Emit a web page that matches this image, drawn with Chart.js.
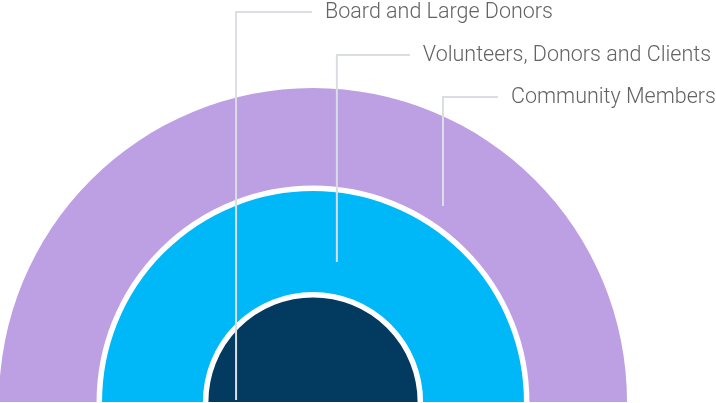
<!DOCTYPE html>
<html>
<head>
<meta charset="utf-8">
<script src="https://cdn.jsdelivr.net/npm/chart.js@4.4.1/dist/chart.umd.min.js"></script>
<style>
  html, body { margin: 0; padding: 0; background: #fff; overflow: hidden; }
  #wrap { width: 716px; height: 403px; position: relative; }
</style>
</head>
<body>
<div id="wrap"><canvas id="canvas"></canvas></div>
<script>
// rings, outermost first
const groups = ['Community Members', 'Volunteers, Donors and Clients', 'Board and Large Donors']
const ringValues = [1, 1, 1]
const ringWeights = [100, 106, 107]
const ringColors = ['#BD9FE3', '#00B8F8', '#033A60']

// callout placement, relative to center, in units of outer radius
const callouts = [
    { ring: 2, fx: -0.245, fy: -0.006, labelY: 12, lineLen: 76 },
    { ring: 1, fx: 0.076, fy: -0.446, labelY: 55, lineLen: 73 },
    { ring: 0, fx: 0.414, fy: -0.624, labelY: 97, lineLen: 55 }
]

const calloutPlugin = {
    id: 'callouts',
    afterDatasetsDraw(chart) {
        const ctx = chart.ctx
        const outer = chart.getDatasetMeta(0).data[0]
        const cx = outer.x, cy = outer.y, R = outer.outerRadius

        // white separators between rings
        ctx.save()
        ctx.strokeStyle = '#ffffff'
        ctx.lineWidth = 5.5
        for (let i = 0; i < groups.length - 1; i++) {
            const arc = chart.getDatasetMeta(i).data[0]
            ctx.beginPath()
            ctx.arc(cx, cy, arc.innerRadius, Math.PI, 2 * Math.PI)
            ctx.stroke()
        }
        ctx.restore()

        // leader lines and labels
        ctx.save()
        ctx.strokeStyle = '#dadee2'
        ctx.lineWidth = 2
        ctx.font = '300 21.5px Roboto'
        ctx.fillStyle = '#636363'
        ctx.textBaseline = 'middle'
        callouts.forEach(c => {
            const x = cx + c.fx * R
            const y = cy + c.fy * R
            ctx.beginPath()
            ctx.moveTo(x, y)
            ctx.lineTo(x, c.labelY)
            ctx.lineTo(x + c.lineLen, c.labelY)
            ctx.stroke()
            ctx.fillText(groups[c.ring], x + c.lineLen + 13, c.labelY + 1)
        })
        ctx.restore()
    }
}

const ctx = document.getElementById('canvas')
new Chart(ctx, {
    type: 'doughnut',
    data: {
        labels: ['value'],
        datasets: groups.map((g, i) => ({
            label: g,
            data: [ringValues[i]],
            backgroundColor: ringColors[i],
            borderWidth: 0,
            weight: ringWeights[i]
        }))
    },
    options: {
        responsive: true,
        maintainAspectRatio: false,
        animation: false,
        rotation: -90,
        circumference: 180,
        cutout: 0,
        radius: 314,
        layout: { padding: { left: 0, right: 90, top: 88, bottom: 1 } },
        plugins: {
            legend: { display: false },
            tooltip: { enabled: false }
        }
    },
    plugins: [calloutPlugin]
})
</script>
</body>
</html>
